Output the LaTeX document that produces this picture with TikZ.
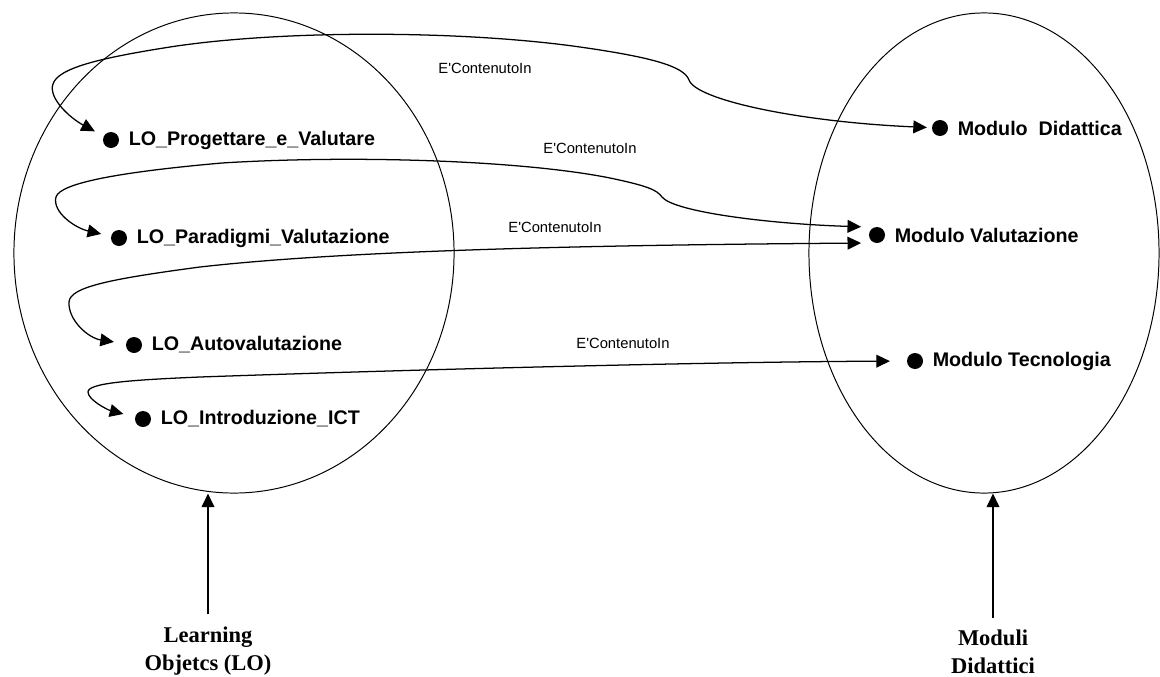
\documentclass[tikz,border=0pt]{standalone}
\usepackage{fontspec}
\setmainfont{Liberation Sans}
\newfontfamily\capfont{Liberation Serif}
\usetikzlibrary{arrows.meta,positioning,shapes.geometric}
\tikzset{
  blob/.style={circle, fill=black, inner sep=0pt, minimum size=0.4cm},
  itemtext/.style={font=\fontsize{14}{16}\selectfont\bfseries, inner sep=0pt},
  reltext/.style={font=\fontsize{10.5}{12}\selectfont, inner sep=0pt},
  link/.style={line width=0.9pt, shorten <=0.25cm, shorten >=0.12cm,
    {Triangle[length=0.34cm,width=0.32cm]}-{Triangle[length=0.34cm,width=0.32cm]}},
  riser/.style={line width=0.9pt, -{Triangle[length=0.34cm,width=0.32cm]}},
  bag/.style={ellipse, draw, line width=0.7pt, minimum height=12cm},
  caption/.style={font=\capfont\fontsize{16}{20}\selectfont\bfseries, align=center, inner sep=0pt}
}
\newcommand{\rel}{E\textquotesingle ContenutoIn}
\begin{document}
\begin{tikzpicture}[x=0.025cm, y=-0.025cm]
\useasboundingbox (0,0) rectangle (1160,677);

\node[bag, minimum width=11cm] (los) at (234,253) {};
\node[bag, minimum width=8.75cm] (mods) at (984,253) {};

\node[blob] (pd) at (111,140) {};
\node[itemtext, right=0.23cm of pd] (tpd) {LO\_Progettare\_e\_Valutare};
\node[blob] (pv) at (119,238) {};
\node[itemtext, right=0.23cm of pv] (tpv) {LO\_Paradigmi\_Valutazione};
\node[blob] (pa) at (134,345) {};
\node[itemtext, right=0.23cm of pa] (tpa) {LO\_Autovalutazione};
\node[blob] (pi) at (143,419) {};
\node[itemtext, right=0.23cm of pi] (tpi) {LO\_Introduzione\_ICT};

\node[blob] (mdd) at (940,128) {};
\node[itemtext, right=0.23cm of mdd] (tmdd) {Modulo\ \ Didattica};
\node[blob] (mv) at (877,235) {};
\node[itemtext, right=0.23cm of mv] (tmv) {Modulo Valutazione};
\node[blob] (mt) at (915,361) {};
\node[itemtext, right=0.23cm of mt] (tmt) {Modulo Tecnologia};

\node[reltext] (r1) at (485,68) {\rel};
\node[reltext] (r2) at (590,148) {\rel};
\node[reltext] (r3) at (555,227) {\rel};
\node[reltext] (r4) at (623,343) {\rel};

\draw[link] (pd) .. controls (70,118) and (48,98) .. (53,84)
  .. controls (58,68) and (100,58) .. (170,47)
  .. controls (280,30) and (460,30) .. (580,47)
  .. controls (650,57) and (684,66) .. (689,80)
  .. controls (696,100) and (800,122) .. (mdd);
\draw[link, shorten >=0.19cm] (pv) .. controls (75,228) and (52,212) .. (56,197)
  .. controls (60,183) and (120,172) .. (222,163)
  .. controls (350,155) and (520,160) .. (610,178)
  .. controls (648,186) and (657,190) .. (662,197)
  .. controls (674,212) and (770,224) .. ([yshift=0.2cm]mv.west);
\draw[link, shorten <=0.3cm, shorten >=0.19cm] (pa) .. controls (88,338) and (68,320) .. (69,302)
  .. controls (70,287) and (110,279) .. (200,267)
  .. controls (350,250) and (600,245) .. ([yshift=-0.2cm]mv.west);
\draw[link, shorten <=0.3cm, shorten >=0.42cm] (pi) .. controls (108,410) and (88,400) .. (88,392)
  .. controls (88,383) and (130,380) .. (200,377)
  .. controls (400,370) and (700,362) .. (mt);

\node[caption] (lolab) at (208,651) {Learning\\Objetcs (LO)};
\node[caption] (modlab) at (993,652) {Moduli\\Didattici};
\draw[riser, shorten <=0.3cm] (lolab.north) -- (lolab.north |- los.south);
\draw[riser, shorten <=0.3cm] (modlab.north) -- (modlab.north |- mods.south);
\end{tikzpicture}
\end{document}
